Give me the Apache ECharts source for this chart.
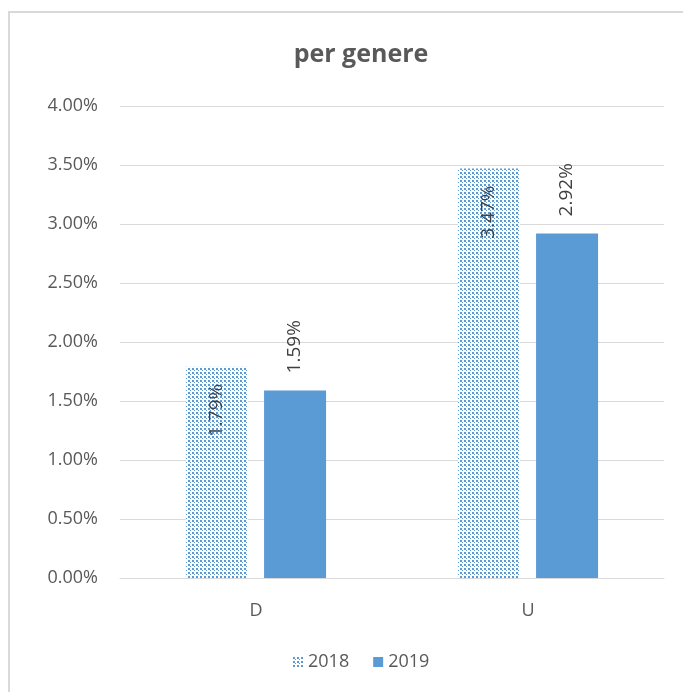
<!DOCTYPE html>
<html>
<head>
<meta charset="utf-8">
<script src="https://cdn.jsdelivr.net/npm/echarts@6/dist/echarts.min.js"></script>
<style>
  html, body { margin: 0; padding: 0; background: #fff; }
  #chart { width: 683px; height: 692px; }
</style>
</head>
<body>
<div id="chart"></div>
<script>
// data
const categories = ['D', 'U'];
const seriesNames = ['2018', '2019'];
const values2018 = [0.0179, 0.0347];
const values2019 = [0.0159, 0.0292];

const blue = '#5b9bd5';
const textGrey = '#595959';
const font = '"Open Sans", "Noto Sans", sans-serif';

// dotted fill for 2018
function dotPattern() {
    let c = document.createElement('canvas');
    c.width = 4;
    c.height = 4;
    let ctx = c.getContext('2d');
    ctx.fillStyle = '#ffffff';
    ctx.fillRect(0, 0, 4, 4);
    ctx.fillStyle = blue;
    ctx.fillRect(0, 0, 2, 2);
    ctx.fillRect(2, 2, 1, 1);
    return { image: c, repeat: 'repeat' };
}

const pct = v => (v * 100).toFixed(2) + '%';

let chart = echarts.init(document.getElementById('chart'));

chart.setOption({
    animation: false,
    backgroundColor: '#fff',
    textStyle: { fontFamily: font },
    title: {
        text: 'per genere',
        left: 356,
        top: 37,
        textAlign: 'center',
        textStyle: { fontSize: 25, fontWeight: 'bold', color: textGrey, fontFamily: font }
    },
    graphic: [{
        type: 'rect',
        shape: { x: 9, y: 12, width: 720, height: 720 },
        style: { fill: 'none', stroke: '#d9d9d9', lineWidth: 2 },
        silent: true
    }],
    legend: {
        data: seriesNames,
        bottom: 16,
        left: 288,
        itemWidth: 10,
        itemHeight: 10,
        itemGap: 24,
        icon: 'rect',
        textStyle: { fontSize: 18, color: textGrey, fontFamily: font }
    },
    grid: { left: 120, right: 19, top: 106, bottom: 114 },
    xAxis: {
        type: 'category',
        data: categories,
        axisLine: { lineStyle: { color: '#d9d9d9', width: 1 } },
        axisTick: { show: false },
        axisLabel: { fontSize: 18, color: textGrey, margin: 24 }
    },
    yAxis: {
        type: 'value',
        min: 0,
        max: 0.04,
        interval: 0.005,
        axisLine: { show: false },
        axisTick: { show: false },
        splitLine: { lineStyle: { color: '#d9d9d9' } },
        axisLabel: { fontSize: 18, color: textGrey, margin: 22, formatter: pct }
    },
    series: [
        {
            name: seriesNames[0],
            type: 'bar',
            data: values2018,
            barWidth: 62,
            barGap: '26%',
            itemStyle: { color: dotPattern() },
            label: {
                show: true,
                position: 'insideTop',
                rotate: 90,
                align: 'right',
                verticalAlign: 'middle',
                distance: 17,
                fontSize: 19,
                color: '#404040',
                formatter: p => pct(p.value)
            }
        },
        {
            name: seriesNames[1],
            type: 'bar',
            data: values2019,
            barWidth: 62,
            itemStyle: { color: blue },
            label: {
                show: true,
                position: 'top',
                rotate: 90,
                align: 'left',
                verticalAlign: 'middle',
                distance: 17,
                fontSize: 19,
                color: '#404040',
                formatter: p => pct(p.value)
            }
        }
    ]
});
</script>
</body>
</html>
